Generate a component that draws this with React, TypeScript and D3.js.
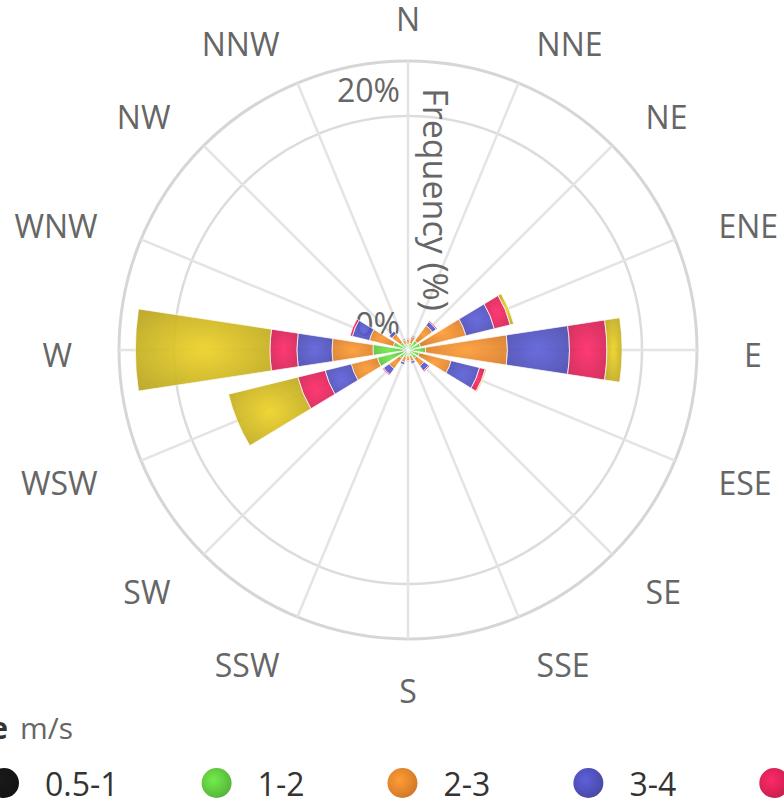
import React from 'react';
import * as d3 from 'd3';

// ---------- data ----------
const directions = ['N', 'NNE', 'NE', 'ENE', 'E', 'ESE', 'SE', 'SSE', 'S', 'SSW', 'SW', 'WSW', 'W', 'WNW', 'NW', 'NNW'];
const speedBins = ['0.5-1', '1-2', '2-3', '3-4', '4-5', '5-6'];

// frequency (%) per direction, N..NNW
const speed05to1 = [0.1, 0.1, 0.2, 0.2, 0.3, 0.2, 0.1, 0.1, 0.1, 0.1, 0.2, 0.3, 0.4, 0.2, 0.1, 0.1];
const speed1to2 = [0.4, 0.5, 0.8, 0.9, 1.2, 0.8, 0.8, 0.4, 0.4, 0.5, 0.7, 2.4, 2.6, 1.1, 0.7, 0.4];
const speed2to3 = [0.4, 0.6, 1.6, 4.0, 7.0, 2.8, 0.8, 0.5, 0.4, 0.5, 1.1, 2.3, 3.5, 2.1, 0.9, 0.4];
const speed3to4 = [0.1, 0.1, 0.4, 2.5, 5.3, 2.5, 0.5, 0.2, 0.1, 0.2, 0.6, 2.3, 3.0, 1.5, 0.3, 0.1];
const speed4to5 = [0.0, 0.0, 0.1, 1.4, 3.2, 0.5, 0.1, 0.0, 0.0, 0.0, 0.1, 2.4, 2.3, 0.2, 0.0, 0.0];
const speed5to6 = [0.0, 0.0, 0.0, 0.3, 1.3, 0.1, 0.0, 0.0, 0.0, 0.0, 0.0, 6.1, 11.5, 0.0, 0.0, 0.0];

const radialTicks = [0, 20];
const radialMax = 24.7;
const tickLabels = ['0%', '20%'];
const axisTitle = 'Frequency (%)';
const legendTitle = 'Wind speed range';
const legendUnit = 'm/s';

const seriesColors = ['#151515', '#5fc63f', '#e8832c', '#4f50b8', '#dc2357', '#c6b020'];

// ---------- layout ----------
const W = 784;
const H = 809;
const cx = 408;
const cy = 350;
const R = 289;
const labelR = 336;
const FONT = "'Open Sans', 'DejaVu Sans', sans-serif";

function measure(text: string, font: string): number {
  const c = document.createElement('canvas');
  const ctx = c.getContext('2d');
  if (!ctx) return text.length * 16;
  ctx.font = font;
  return ctx.measureText(text).width;
}

export default function App() {
  const seriesValues = [speed05to1, speed1to2, speed2to3, speed3to4, speed4to5, speed5to6];
  const table = directions.map((d, i) => {
    const row: any = { dir: d };
    speedBins.forEach((b, k) => (row[b] = seriesValues[k][i]));
    return row;
  });
  const stacked = d3.stack<any>().keys(speedBins)(table);

  const angle = d3
    .scalePoint<string>()
    .domain(directions)
    .range([0, 2 * Math.PI - (2 * Math.PI) / directions.length]);
  const step = (2 * Math.PI) / directions.length;
  const barWidth = step * 0.77;
  const r = d3.scaleLinear().domain([0, radialMax]).range([0, R]);

  const arc = d3.arc<any>();

  // legend layout
  const legendFont = `32px ${FONT}`;
  let lx = 4;
  const legendItems = speedBins.map((b, i) => {
    const w = measure(b, legendFont);
    const item = { label: b, x: lx, color: seriesColors[i] };
    lx += 41 + w + 98;
    return item;
  });

  return (
    <svg
      width={W}
      height={H}
      style={{ position: 'absolute', left: 0, top: 0, background: '#fff' }}
      fontFamily={FONT}
    >
      <defs>
        {seriesColors.map((c, i) => (
          <radialGradient key={i} id={`grad${i}`} cx="50%" cy="50%" r="70%">
            <stop offset="0%" stopColor={d3.color(c)!.brighter(0.5).formatHex()} />
            <stop offset="100%" stopColor={d3.color(c)!.darker(0.25).formatHex()} />
          </radialGradient>
        ))}
        {seriesColors.map((c, i) => (
          <radialGradient key={'l' + i} id={`lgrad${i}`} cx="40%" cy="40%" r="65%">
            <stop offset="0%" stopColor={d3.color(c)!.brighter(0.5).formatHex()} />
            <stop offset="100%" stopColor={d3.color(c)!.darker(0.3).formatHex()} />
          </radialGradient>
        ))}
      </defs>
      <rect width={W} height={H} fill="#fff" />

      <g transform={`translate(${cx},${cy})`}>
        {/* grid circles */}
        {radialTicks
          .filter((t) => t > 0)
          .map((t) => (
            <circle key={t} r={r(t)} fill="none" stroke="#dcdcdc" strokeWidth={2.5} />
          ))}
        <circle r={R} fill="none" stroke="#d6d6d6" strokeWidth={3} />
        {/* spokes */}
        {directions.map((d) => {
          const a = angle(d)!;
          return (
            <line
              key={d}
              x1={0}
              y1={0}
              x2={R * Math.sin(a)}
              y2={-R * Math.cos(a)}
              stroke="#e4e4e4"
              strokeWidth={2.5}
            />
          );
        })}

        {/* radial tick labels */}
        {radialTicks.map((t, i) => (
          <text
            key={t}
            x={-8}
            y={-r(t) - 14}
            textAnchor="end"
            fontSize={32}
            fill="#666"
          >
            {tickLabels[i]}
          </text>
        ))}

        {/* bars */}
        {stacked.map((s, k) => (
          <g key={s.key}>
            {s.map((p, i) => {
              if (p[1] - p[0] <= 0) return null;
              const a = angle(directions[i])!;
              const path = arc({
                innerRadius: r(p[0]),
                outerRadius: r(p[1]),
                startAngle: a - barWidth / 2,
                endAngle: a + barWidth / 2,
              });
              return (
                <path
                  key={i}
                  d={path || ''}
                  fill={`url(#grad${k})`}
                  fillOpacity={0.92}
                  stroke="#fff"
                  strokeOpacity={0.7}
                  strokeWidth={1}
                />
              );
            })}
          </g>
        ))}

        {/* axis title */}
        <text
          transform={`translate(15, ${-(R / 2) - 6}) rotate(90)`}
          textAnchor="middle"
          fontSize={34}
          fill="#666"
        >
          {axisTitle}
        </text>

        {/* direction labels */}
        {directions.map((d) => {
          const a = angle(d)!;
          const s = Math.sin(a);
          const anchor = Math.abs(s) < 0.01 ? 'middle' : s > 0 ? 'start' : 'end';
          return (
            <text
              key={d}
              x={labelR * s}
              y={-labelR * Math.cos(a) + 4}
              textAnchor={anchor}
              dominantBaseline="central"
              fontSize={32}
              fill="#666"
            >
              {d}
            </text>
          );
        })}
      </g>

      {/* legend */}
      <g>
        <text x={8} y={739} textAnchor="end" fontSize={30} fontWeight="bold" fill="#333">
          {legendTitle}
        </text>
        <text x={20} y={739} fontSize={30} fill="#666">
          {legendUnit}
        </text>
        {legendItems.map((it, i) => (
          <g key={it.label}>
            <circle cx={it.x} cy={783} r={15} fill={`url(#lgrad${i})`} />
            <text x={it.x + 41} y={796} fontSize={32} fill="#333">
              {it.label}
            </text>
          </g>
        ))}
      </g>
    </svg>
  );
}
